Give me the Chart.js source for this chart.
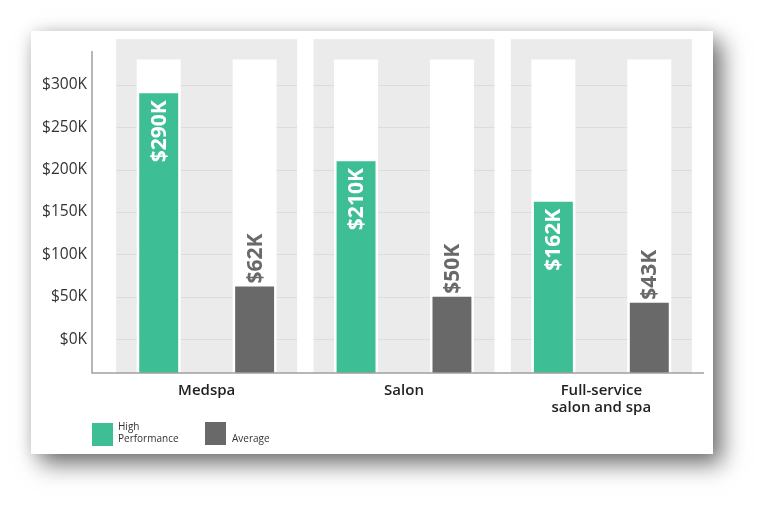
<!DOCTYPE html>
<html>
<head>
<meta charset="utf-8">
<script src="https://cdn.jsdelivr.net/npm/chart.js@4.4.1/dist/chart.umd.min.js"></script>
<style>
  html, body { margin: 0; padding: 0; background: #fff; }
  body { width: 775px; height: 517px; position: relative; overflow: hidden; font-family: "Open Sans", sans-serif; }
  .card {
    position: absolute; left: 31px; top: 31px; width: 682px; height: 423px; background: #fff;
    box-shadow: 9px 10px 22px rgba(0,0,0,0.55), 0 0 14px rgba(0,0,0,0.10);
  }
  canvas { position: absolute; left: 0; top: 0; }
  .legend .sw { position: absolute; width: 21px; height: 23px; }
  .legend .txt { position: absolute; font-size: 10px; line-height: 12px; color: #333; }
</style>
</head>
<body>
<div class="card">
  <canvas id="chart" width="682" height="423"></canvas>
  <div class="legend">
    <div class="sw" style="left:61px;top:392px;background:#3dbe95"></div>
    <div class="txt" style="left:87px;top:389px">High<br>Performance</div>
    <div class="sw" style="left:174px;top:391px;background:#696969"></div>
    <div class="txt" style="left:201px;top:401px">Average</div>
  </div>
</div>
<script>
const categories = ['Medspa', 'Salon', ['Full-service', 'salon and spa']];
const highPerformance = [290, 210, 162];
const average = [62, 50, 43];
const yTicks = [0, 50, 100, 150, 200, 250, 300];

const Y_MIN = -40;
const Y_MAX = 340;
const TRACK_TOP = 330;
const PANEL_TOP = 354;

const GREEN = '#3dbe95';
const GREY = '#696969';

const track = categories.map(() => [Y_MIN, TRACK_TOP]);

// gray panels, gridlines and axis lines
const backdrop = {
  id: 'backdrop',
  beforeDatasetsDraw(chart) {
    const { ctx, chartArea, scales: { x, y } } = chart;
    const catW = chartArea.width / categories.length;
    const panelW = catW * 0.917;
    const top = y.getPixelForValue(PANEL_TOP);
    ctx.save();
    categories.forEach((_, i) => {
      const cx = x.getPixelForValue(i);
      ctx.fillStyle = '#ebebeb';
      ctx.fillRect(cx - panelW / 2, top, panelW, chartArea.bottom - top);
      ctx.strokeStyle = '#dcdcdc';
      ctx.lineWidth = 1;
      yTicks.forEach(v => {
        const py = Math.round(y.getPixelForValue(v)) + 0.5;
        ctx.beginPath();
        ctx.moveTo(cx - panelW / 2, py);
        ctx.lineTo(cx + panelW / 2, py);
        ctx.stroke();
      });
    });
    ctx.restore();
  },
  afterDatasetsDraw(chart) {
    const { ctx, chartArea } = chart;
    const left = chartArea.left - 16;
    ctx.save();
    ctx.strokeStyle = '#a0a0a0';
    ctx.lineWidth = 1.5;
    ctx.beginPath();
    ctx.moveTo(left, chartArea.top);
    ctx.lineTo(left, chartArea.bottom);
    ctx.lineTo(chartArea.right + 4, chartArea.bottom);
    ctx.stroke();

    // value labels
    ctx.font = 'bold 21px "Open Sans"';
    ctx.textBaseline = 'middle';
    [[1, highPerformance, '#ffffff', true], [3, average, GREY, false]].forEach(([idx, vals, color, inside]) => {
      chart.getDatasetMeta(idx).data.forEach((bar, i) => {
        ctx.save();
        ctx.fillStyle = color;
        ctx.translate(bar.x, inside ? bar.y + 7 : bar.y - 3);
        ctx.rotate(-Math.PI / 2);
        ctx.textAlign = inside ? 'right' : 'left';
        ctx.fillText('$' + vals[i] + 'K', 0, 1);
        ctx.restore();
      });
    });
    ctx.restore();
  }
};

new Chart(document.getElementById('chart'), {
  type: 'bar',
  data: {
    labels: categories,
    datasets: [
      { label: 'trackHP', data: track, backgroundColor: '#fff', stack: 'hp', order: 2,
        barPercentage: 0.458, categoryPercentage: 0.972 },
      { label: 'High Performance', data: highPerformance.map(v => [Y_MIN, v]), backgroundColor: GREEN,
        stack: 'hp', order: 1, barPercentage: 0.406, categoryPercentage: 0.972 },
      { label: 'trackAvg', data: track, backgroundColor: '#fff', stack: 'avg', order: 2,
        barPercentage: 0.458, categoryPercentage: 0.972 },
      { label: 'Average', data: average.map(v => [Y_MIN, v]), backgroundColor: GREY,
        stack: 'avg', order: 1, barPercentage: 0.406, categoryPercentage: 0.972 }
    ]
  },
  options: {
    responsive: false,
    animation: false,
    layout: { padding: { top: 20, right: 13, left: 0, bottom: 0 } },
    plugins: { legend: { display: false }, tooltip: { enabled: false } },
    scales: {
      x: {
        grid: { display: false, drawTicks: false },
        border: { display: false },
        ticks: { color: '#222', padding: 9, font: { family: 'Open Sans', size: 15, weight: '600', lineHeight: 1.15 } },
        afterFit(scale) { scale.height = 81; scale.paddingLeft = 0; scale.paddingRight = 0; }
      },
      y: {
        min: Y_MIN, max: Y_MAX, stacked: false,
        grid: { display: false, drawTicks: false },
        border: { display: false },
        afterBuildTicks(scale) { scale.ticks = yTicks.map(v => ({ value: v })); },
        afterFit(scale) { scale.width = 77; scale.paddingTop = 0; scale.paddingBottom = 0; },
        ticks: {
          color: '#333', padding: 21,
          font: { family: 'Open Sans', size: 15.5 },
          callback: v => '$' + v + 'K'
        }
      }
    }
  },
  plugins: [backdrop]
});
</script>
</body>
</html>
